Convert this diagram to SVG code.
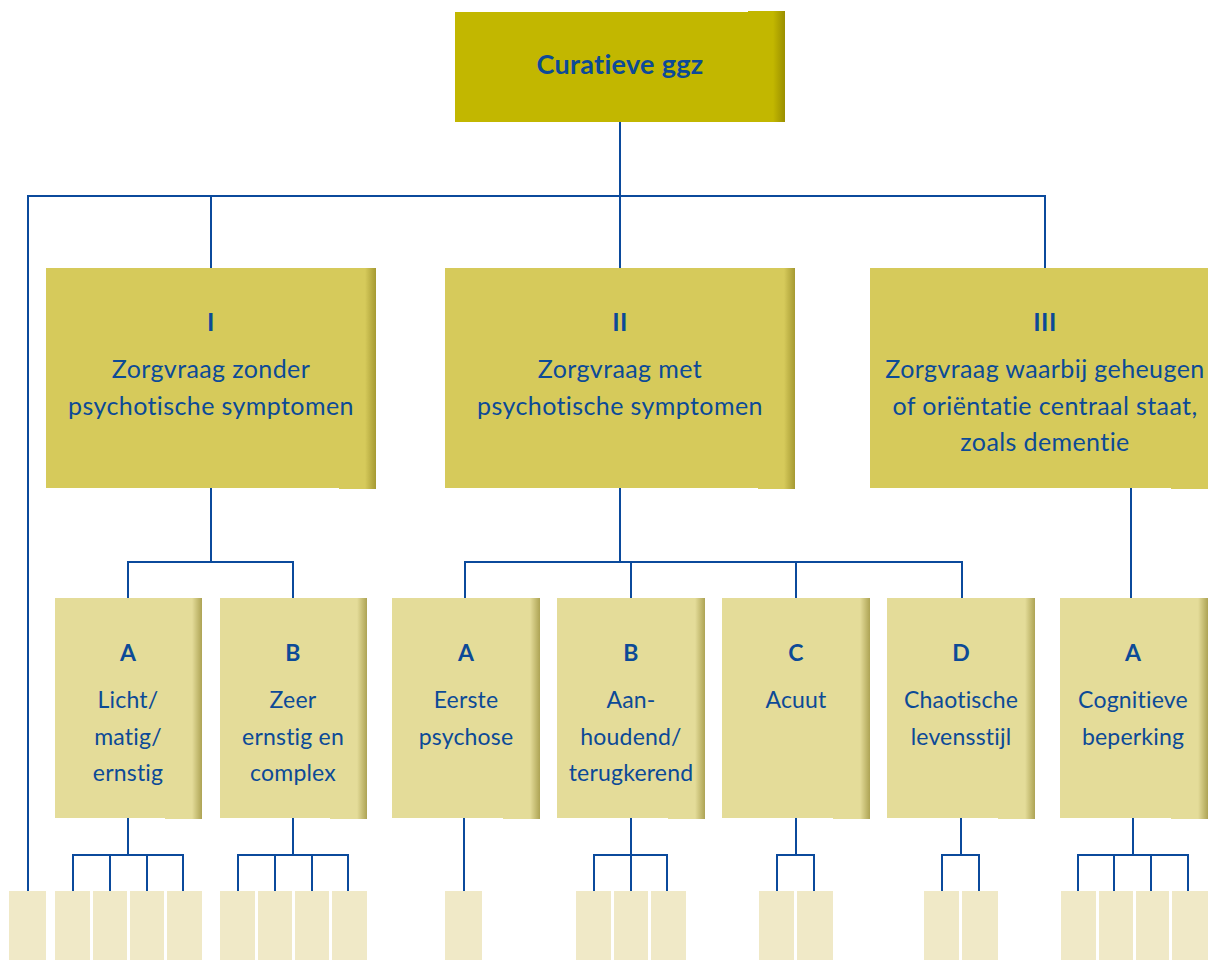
<svg xmlns="http://www.w3.org/2000/svg" width="1208" height="960" viewBox="0 0 1208 960">
<style>
.t{font-family:Lato,"Open Sans","Liberation Sans",sans-serif;fill:#0C4A97;text-anchor:middle;font-variant-ligatures:none}
.b{font-weight:bold}
.l0{font-size:27px;letter-spacing:0.3px}
.l1{font-size:25px;letter-spacing:0.4px}
.l2{font-size:23px;letter-spacing:0.2px}
.c{fill:none;stroke:#0B4A9C;stroke-width:2}
.f0{fill:#C2B700}
.f1{fill:#D6CA5B}
.f2{fill:#E4DC99}
.f3{fill:#F0E9C7}
</style>
<defs>
<linearGradient id="sh" x1="0" y1="0" x2="1" y2="0">
<stop offset="0" stop-color="#6a5e00" stop-opacity="0"/>
<stop offset="1" stop-color="#6a5e00" stop-opacity="0.45"/>
</linearGradient>
</defs>
<g id="connectors" class="c">
<path d="M620,122 V196"/>
<path d="M28,891 V196 H1045 V268"/>
<path d="M211,196 V268"/>
<path d="M620,196 V268"/>
<path d="M211,488 V562"/>
<path d="M128,598 V562 H293 V598"/>
<path d="M620,488 V562"/>
<path d="M465,598 V562 H962 V598"/>
<path d="M631,562 V598"/>
<path d="M796,562 V598"/>
<path d="M1131,488 V598"/>
<path d="M128,818 V855"/>
<path d="M73,891 V855 H183 V891"/>
<path d="M110,855 V891"/>
<path d="M147,855 V891"/>
<path d="M293,818 V855"/>
<path d="M238,891 V855 H348 V891"/>
<path d="M275,855 V891"/>
<path d="M312,855 V891"/>
<path d="M464,818 V891"/>
<path d="M631,818 V891"/>
<path d="M594,891 V855 H667 V891"/>
<path d="M796,818 V855"/>
<path d="M777,891 V855 H814 V891"/>
<path d="M961,818 V855"/>
<path d="M942,891 V855 H979 V891"/>
<path d="M1133,818 V855"/>
<path d="M1078,891 V855 H1188 V891"/>
<path d="M1114,855 V891"/>
<path d="M1151,855 V891"/>
</g>
<g id="root">
<rect class="f0" x="455" y="12" width="330" height="110"/>
<rect class="f0" x="748" y="11" width="37" height="111"/>
<rect x="773" y="11" width="12" height="111" fill="url(#sh)"/>
<text class="t b l0" x="620" y="74">Curatieve ggz</text>
</g>
<g id="n-I">
<rect class="f1" x="46" y="268" width="330" height="220"/>
<rect class="f1" x="339" y="268" width="37" height="221"/>
<rect x="365" y="268" width="11" height="221" fill="url(#sh)"/>
<text class="t b l1" x="211" y="331">I</text>
<text class="t l1" x="211" y="378">Zorgvraag zonder</text>
<text class="t l1" x="211" y="415">psychotische symptomen</text>
</g>
<g id="n-II">
<rect class="f1" x="445" y="268" width="350" height="220"/>
<rect class="f1" x="758" y="268" width="37" height="221"/>
<rect x="784" y="268" width="11" height="221" fill="url(#sh)"/>
<text class="t b l1" x="620" y="331">II</text>
<text class="t l1" x="620" y="378">Zorgvraag met</text>
<text class="t l1" x="620" y="415">psychotische symptomen</text>
</g>
<g id="n-III">
<rect class="f1" x="870" y="268" width="338" height="220"/>
<rect class="f1" x="1171" y="268" width="37" height="221"/>
<text class="t b l1" x="1045" y="331">III</text>
<text class="t l1" x="1045" y="378">Zorgvraag waarbij geheugen</text>
<text class="t l1" x="1045" y="415">of oriëntatie centraal staat,</text>
<text class="t l1" x="1045" y="451">zoals dementie</text>
</g>
<g id="n-IA">
<rect class="f2" x="55" y="598" width="147" height="220"/>
<rect class="f2" x="165" y="598" width="37" height="221"/>
<rect x="192" y="598" width="10" height="221" fill="url(#sh)"/>
<text class="t b l2" x="128" y="661">A</text>
<text class="t l2" x="128" y="708">Licht/</text>
<text class="t l2" x="128" y="745">matig/</text>
<text class="t l2" x="128" y="781">ernstig</text>
</g>
<g id="n-IB">
<rect class="f2" x="220" y="598" width="147" height="220"/>
<rect class="f2" x="330" y="598" width="37" height="221"/>
<rect x="357" y="598" width="10" height="221" fill="url(#sh)"/>
<text class="t b l2" x="293" y="661">B</text>
<text class="t l2" x="293" y="708">Zeer</text>
<text class="t l2" x="293" y="745">ernstig en</text>
<text class="t l2" x="293" y="781">complex</text>
</g>
<g id="n-IIA">
<rect class="f2" x="392" y="598" width="148" height="220"/>
<rect class="f2" x="503" y="598" width="37" height="221"/>
<rect x="530" y="598" width="10" height="221" fill="url(#sh)"/>
<text class="t b l2" x="466" y="661">A</text>
<text class="t l2" x="466" y="708">Eerste</text>
<text class="t l2" x="466" y="745">psychose</text>
</g>
<g id="n-IIB">
<rect class="f2" x="557" y="598" width="148" height="220"/>
<rect class="f2" x="668" y="598" width="37" height="221"/>
<rect x="695" y="598" width="10" height="221" fill="url(#sh)"/>
<text class="t b l2" x="631" y="661">B</text>
<text class="t l2" x="631" y="708">Aan-</text>
<text class="t l2" x="631" y="745">houdend/</text>
<text class="t l2" x="631" y="781">terugkerend</text>
</g>
<g id="n-IIC">
<rect class="f2" x="722" y="598" width="148" height="220"/>
<rect class="f2" x="833" y="598" width="37" height="221"/>
<rect x="860" y="598" width="10" height="221" fill="url(#sh)"/>
<text class="t b l2" x="796" y="661">C</text>
<text class="t l2" x="796" y="708">Acuut</text>
</g>
<g id="n-IID">
<rect class="f2" x="887" y="598" width="148" height="220"/>
<rect class="f2" x="998" y="598" width="37" height="221"/>
<rect x="1025" y="598" width="10" height="221" fill="url(#sh)"/>
<text class="t b l2" x="961" y="661">D</text>
<text class="t l2" x="961" y="708">Chaotische</text>
<text class="t l2" x="961" y="745">levensstijl</text>
</g>
<g id="n-IIIA">
<rect class="f2" x="1060" y="598" width="148" height="220"/>
<rect class="f2" x="1171" y="598" width="37" height="221"/>
<rect x="1198" y="598" width="10" height="221" fill="url(#sh)"/>
<text class="t b l2" x="1133" y="661">A</text>
<text class="t l2" x="1133" y="708">Cognitieve</text>
<text class="t l2" x="1133" y="745">beperking</text>
</g>
<g id="leaves" class="f3">
<rect x="9" y="891" width="37" height="69"/>
<rect x="55" y="891" width="35" height="69"/>
<rect x="93" y="891" width="34" height="69"/>
<rect x="130" y="891" width="34" height="69"/>
<rect x="167" y="891" width="35" height="69"/>
<rect x="220" y="891" width="35" height="69"/>
<rect x="258" y="891" width="34" height="69"/>
<rect x="295" y="891" width="34" height="69"/>
<rect x="332" y="891" width="35" height="69"/>
<rect x="445" y="891" width="37" height="69"/>
<rect x="576" y="891" width="35" height="69"/>
<rect x="614" y="891" width="34" height="69"/>
<rect x="651" y="891" width="35" height="69"/>
<rect x="759" y="891" width="35" height="69"/>
<rect x="797" y="891" width="36" height="69"/>
<rect x="924" y="891" width="35" height="69"/>
<rect x="962" y="891" width="36" height="69"/>
<rect x="1061" y="891" width="35" height="69"/>
<rect x="1099" y="891" width="34" height="69"/>
<rect x="1136" y="891" width="33" height="69"/>
<rect x="1172" y="891" width="36" height="69"/>
</g>
</svg>
